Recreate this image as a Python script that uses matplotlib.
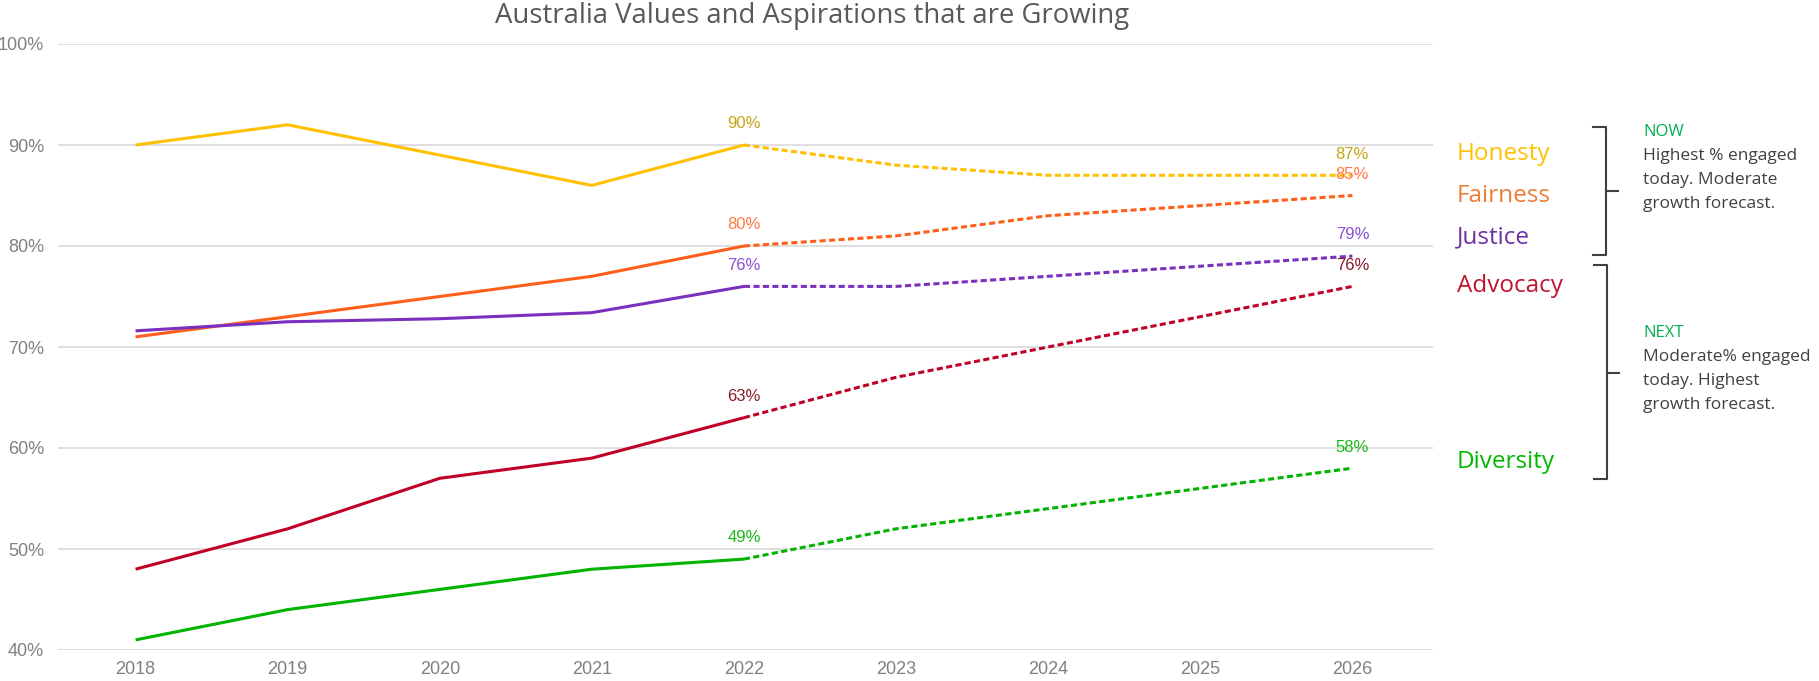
import matplotlib.pyplot as plt
from matplotlib.lines import Line2D

# data
years = [2018, 2019, 2020, 2021, 2022, 2023, 2024, 2025, 2026]
honesty = [90, 92, 89, 86, 90, 88, 87, 87, 87]
fairness = [71, 73, 75, 77, 80, 81, 83, 84, 85]
justice = [71.6, 72.5, 72.8, 73.4, 76, 76, 77, 78, 79]
advocacy = [48, 52, 57, 59, 63, 67, 70, 73, 76]
diversity = [41, 44, 46, 48, 49, 52, 54, 56, 58]

names = ['Honesty', 'Fairness', 'Justice', 'Advocacy', 'Diversity']
series = [honesty, fairness, justice, advocacy, diversity]
line_colors = ['#FFC000', '#FF5F1A', '#7B2FBE', '#C00026', '#00B400']
label_colors = ['#C8A415', '#FF7A45', '#8E4FD0', '#8B1A2A', '#19B819']
name_colors = ['#FFC000', '#ED7D31', '#7030A0', '#C0142E', '#00B800']
split = 4  # index of 2022, actual -> forecast
yticks = [40, 50, 60, 70, 80, 90, 100]

W, H = 1819, 681
fig = plt.figure(figsize=(W / 100, H / 100), dpi=100)
ax = fig.add_axes([58 / W, 1 - 650 / H, (1433 - 58) / W, (650 - 44) / H])

narrow = ['Liberation Sans Narrow', 'Liberation Sans', 'DejaVu Sans']

for vals, lc, tc in zip(series, line_colors, label_colors):
    ax.plot(years[:split + 1], vals[:split + 1], color=lc, lw=2.2,
            solid_capstyle='butt', zorder=3)
    ax.plot(years[split:], vals[split:], color=lc, lw=2.2,
            linestyle=(0, (2.0, 1.1)), zorder=3)
    # value labels at 2022 and 2026
    for i in [split, len(years) - 1]:
        ax.annotate('%d%%' % round(vals[i]), (years[i], vals[i]),
                    xytext=(0, 12), textcoords='offset points',
                    ha='center', va='baseline', color=tc, fontsize=12,
                    family=narrow, zorder=4)

ax.set_xlim(2017.49, 2026.53)
ax.set_ylim(40, 100)
ax.set_xticks(years)
ax.set_yticks(yticks)
ax.set_yticklabels(['%d%%' % v for v in yticks])
ax.grid(axis='y', color='#D9D9D9', lw=1.2, zorder=0)
ax.set_axisbelow(True)
for s in ax.spines.values():
    s.set_visible(False)
ax.tick_params(length=0, colors='#808080', labelsize=13)
ax.tick_params(axis='y', pad=10)
ax.tick_params(axis='x', pad=8)
for lab in ax.get_xticklabels() + ax.get_yticklabels():
    lab.set_family(narrow)

# title
fig.text(812 / W, 1 - 23 / H, 'Australia Values and Aspirations that are Growing',
         ha='center', va='baseline', fontsize=19.8, color='#595959', family='Open Sans')

# category names on the right
name_base = [160, 202, 243, 292, 468]
for n, c, yb in zip(names, name_colors, name_base):
    fig.text(1457 / W, 1 - yb / H, n, ha='left', va='baseline',
             fontsize=17.5, color=c, family='Open Sans')

# brackets
def bracket(x0, x1, xt, ytop, ybot, ymid):
    kw = dict(color='#404040', lw=1.5, transform=fig.transFigure)
    fig.add_artist(Line2D([x0 / W, x1 / W, x1 / W, x0 / W],
                          [1 - ytop / H, 1 - ytop / H, 1 - ybot / H, 1 - ybot / H], **kw))
    fig.add_artist(Line2D([x1 / W, xt / W], [1 - ymid / H, 1 - ymid / H], **kw))

bracket(1593, 1606, 1618, 127, 255, 191)
bracket(1594, 1607, 1619, 265, 479, 373)

# notes
notes = [('NOW', ['Highest % engaged', 'today. Moderate', 'growth forecast.'], 136),
         ('NEXT', ['Moderate% engaged', 'today. Highest', 'growth forecast.'], 337)]
for head, lines, yb in notes:
    fig.text(1643 / W, 1 - yb / H, head, ha='left', va='baseline',
             fontsize=12, color='#00B050', family='Open Sans')
    for k, t in enumerate(lines):
        fig.text(1643 / W, 1 - (yb + 24 * (k + 1)) / H, t, ha='left', va='baseline',
                 fontsize=12.5, color='#404040', family='Open Sans')

fig.savefig('out.png', dpi=100)
